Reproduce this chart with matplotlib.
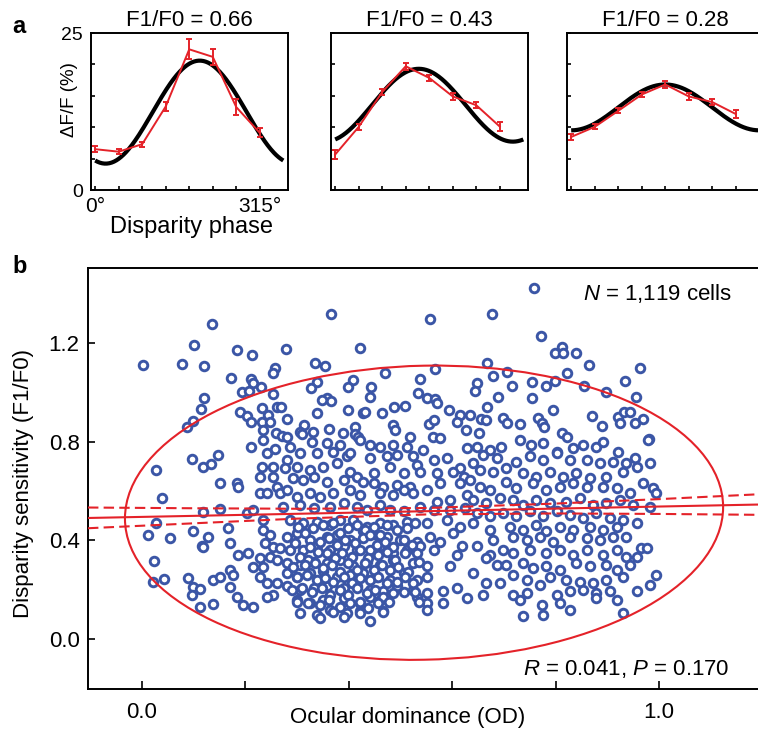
import numpy as np
import matplotlib
matplotlib.use("Agg")
import matplotlib.pyplot as plt
from matplotlib.patches import Ellipse
from matplotlib.transforms import Affine2D

plt.rcParams['font.family'] = ['Liberation Sans', 'DejaVu Sans']
plt.rcParams['mathtext.fontset'] = 'custom'
plt.rcParams['mathtext.rm'] = 'Liberation Sans'
plt.rcParams['mathtext.it'] = 'Liberation Sans:italic'

# ---------------- panel a data ----------------
phases = [0, 45, 90, 135, 180, 225, 270, 315]
phase_ticklabels = ['0\u00b0', '', '', '', '', '', '', '315\u00b0']
dff_ticks = [0, 5, 10, 15, 20, 25]
dff_ticklabels = ['0', '', '', '', '', '25']
panel_titles = ['F1/F0 = 0.66', 'F1/F0 = 0.43', 'F1/F0 = 0.28']

resp_1 = [6.5, 6.1, 7.3, 13.3, 22.4, 21.2, 13.2, 9.1]
err_1 = [0.5, 0.4, 0.4, 0.7, 1.6, 1.3, 1.3, 0.7]
resp_2 = [5.65, 10.05, 15.6, 19.7, 17.85, 14.9, 13.5, 10.1]
err_2 = [0.75, 0.5, 0.5, 0.6, 0.5, 0.5, 0.5, 0.7]
resp_3 = [8.45, 10.05, 12.6, 15.2, 16.8, 14.9, 14.0, 12.1]
err_3 = [0.5, 0.4, 0.4, 0.4, 0.6, 0.5, 0.5, 0.6]

# cosine fit parameters (mean, amplitude, preferred phase)
fit_mean = [12.4, 13.5, 13.15]
fit_amp = [8.2, 5.8, 3.65]
fit_phase = [200, 160, 180]

# ---------------- panel b data ----------------
od_ticks = [0.0, 0.2, 0.4, 0.6, 0.8, 1.0]
od_ticklabels = ['0.0', '', '', '', '', '1.0']
sens_ticks = [0.0, 0.4, 0.8, 1.2]
sens_ticklabels = ['0.0', '0.4', '0.8', '1.2']

od_outer = [0.135, 0.100, 0.002, 0.077, 0.120, 0.184, 0.213, 0.279, 0.172, 0.211,
            0.215, 0.257, 0.253, 0.193, 0.207, 0.230, 0.253, 0.120, 0.114, 0.099,
            0.087, 0.190, 0.203, 0.211, 0.232, 0.244, 0.232, 0.248, 0.261, 0.269,
            0.280, 0.234, 0.259, 0.271, 0.280, 0.234, 0.211, 0.242, 0.257, 0.097,
            0.147, 0.366, 0.422, 0.335, 0.354, 0.443, 0.408, 0.398, 0.338, 0.327,
            0.358, 0.366, 0.348, 0.441, 0.398, 0.427, 0.431, 0.338, 0.313, 0.331,
            0.362, 0.389, 0.412, 0.412, 0.418, 0.306, 0.309, 0.232, 0.253, 0.228,
            0.253, 0.118, 0.133, 0.027, 0.151, 0.184, 0.186]
sens_outer = [1.277, 1.190, 1.110, 1.115, 1.107, 1.170, 1.150, 1.175, 1.060, 1.054,
              1.038, 1.100, 1.080, 1.000, 1.005, 1.020, 0.993, 0.977, 0.932, 0.884,
              0.859, 0.920, 0.904, 0.880, 0.936, 0.908, 0.880, 0.880, 0.940, 0.940,
              0.892, 0.847, 0.835, 0.823, 0.819, 0.807, 0.778, 0.754, 0.770, 0.730,
              0.746, 1.317, 1.180, 1.120, 1.107, 1.020, 1.050, 1.020, 1.040, 1.017,
              0.977, 0.965, 0.969, 0.980, 0.928, 0.916, 0.920, 0.916, 0.867, 0.839,
              0.851, 0.835, 0.859, 0.831, 0.819, 0.839, 0.831, 0.697, 0.697, 0.657,
              0.657, 0.697, 0.709, 0.685, 0.632, 0.632, 0.616]

od_upper_right = [0.758, 0.677, 0.557, 0.772, 0.799, 0.812, 0.814, 0.839, 0.865, 0.963,
                  0.667, 0.567, 0.470, 0.538, 0.679, 0.706, 0.716, 0.648, 0.644, 0.754,
                  0.781, 0.799, 0.822, 0.855, 0.897, 0.934, 0.956, 0.754, 0.689, 0.534,
                  0.551, 0.567, 0.571, 0.667, 0.795, 0.509, 0.487, 0.464, 0.594, 0.615,
                  0.634, 0.656, 0.665, 0.698, 0.706, 0.731, 0.609, 0.555, 0.565, 0.627,
                  0.652, 0.766, 0.774, 0.778, 0.812, 0.822, 0.870, 0.890, 0.921, 0.932,
                  0.944, 0.954, 0.969, 0.981, 0.925, 0.485, 0.489, 0.518, 0.563, 0.576]
sens_upper_right = [1.423, 1.317, 1.297, 1.228, 1.159, 1.184, 1.159, 1.159, 1.110, 1.098,
                    1.119, 1.094, 1.078, 1.054, 1.066, 1.082, 1.025, 1.038, 1.005, 1.042,
                    1.025, 1.046, 1.078, 1.025, 1.000, 1.046, 0.980, 0.977, 0.980, 0.997,
                    0.977, 0.973, 0.957, 0.940, 0.928, 0.944, 0.940, 0.916, 0.928, 0.908,
                    0.908, 0.892, 0.888, 0.896, 0.876, 0.872, 0.880, 0.872, 0.888, 0.847,
                    0.835, 0.896, 0.876, 0.859, 0.835, 0.819, 0.904, 0.863, 0.900, 0.920,
                    0.920, 0.876, 0.892, 0.811, 0.876, 0.867, 0.847, 0.819, 0.819, 0.815]

od_lower_left = [0.039, 0.012, 0.023, 0.021, 0.043, 0.054, 0.027, 0.099, 0.116, 0.118,
                 0.128, 0.089, 0.099, 0.112, 0.097, 0.112, 0.137, 0.137, 0.151, 0.170,
                 0.176, 0.170, 0.184, 0.195, 0.215, 0.186, 0.205, 0.170, 0.166, 0.151,
                 0.118, 0.203, 0.215, 0.228, 0.242, 0.261, 0.267, 0.234, 0.234, 0.248,
                 0.238, 0.253, 0.267, 0.248, 0.261, 0.234, 0.228, 0.242, 0.261, 0.253,
                 0.242, 0.215, 0.228]
sens_lower_left = [0.572, 0.422, 0.316, 0.231, 0.243, 0.409, 0.470, 0.438, 0.377, 0.373,
                   0.413, 0.247, 0.211, 0.203, 0.178, 0.130, 0.142, 0.240, 0.251, 0.280,
                   0.260, 0.211, 0.170, 0.138, 0.130, 0.340, 0.349, 0.389, 0.450, 0.527,
                   0.515, 0.510, 0.523, 0.592, 0.592, 0.616, 0.592, 0.482, 0.442, 0.421,
                   0.389, 0.373, 0.369, 0.332, 0.320, 0.292, 0.251, 0.227, 0.227, 0.178,
                   0.170, 0.292, 0.328]

od_core_left = [0.286, 0.328, 0.357, 0.383, 0.422, 0.441, 0.461, 0.486, 0.512, 0.544, 0.628,
                0.280, 0.306, 0.338, 0.370, 0.396, 0.402, 0.441, 0.473, 0.493, 0.525, 0.564, 0.590, 0.615, 0.531,
                0.277, 0.299, 0.325, 0.351, 0.377, 0.402, 0.415, 0.448, 0.480, 0.506, 0.538, 0.570, 0.602, 0.622,
                0.293, 0.312, 0.332, 0.357, 0.390, 0.428, 0.448, 0.467, 0.493, 0.519, 0.551, 0.577, 0.615, 0.635,
                0.280, 0.299, 0.325, 0.344, 0.370, 0.402, 0.422, 0.461, 0.486, 0.506, 0.525, 0.570, 0.596, 0.628,
                0.273, 0.306, 0.332, 0.364, 0.390, 0.415, 0.435, 0.461, 0.480, 0.506, 0.538, 0.564, 0.596, 0.625,
                0.286, 0.312, 0.338, 0.364, 0.383, 0.409, 0.435, 0.461, 0.486, 0.512, 0.551, 0.590, 0.615,
                0.280, 0.299, 0.325, 0.357, 0.377, 0.402, 0.428, 0.454, 0.473, 0.499, 0.531, 0.557, 0.577, 0.602, 0.619,
                0.286, 0.312, 0.338, 0.364, 0.390, 0.415, 0.441, 0.461, 0.486, 0.512, 0.538, 0.564, 0.609,
                0.280, 0.306, 0.332, 0.357, 0.383, 0.409, 0.435, 0.461, 0.486, 0.525, 0.551, 0.596,
                0.280, 0.299, 0.325, 0.351, 0.377, 0.402, 0.428, 0.454, 0.480, 0.506, 0.531, 0.551,
                0.280, 0.306, 0.332, 0.357, 0.390, 0.415, 0.441, 0.467, 0.493, 0.525, 0.551, 0.583, 0.609, 0.628,
                0.299, 0.325, 0.351, 0.390, 0.422, 0.441, 0.461, 0.531, 0.551, 0.583,
                0.306, 0.338, 0.364, 0.396, 0.422, 0.467, 0.441, 0.344, 0.551]
sens_core_left = [0.780, 0.800, 0.793, 0.787, 0.807, 0.787, 0.780, 0.787, 0.780, 0.766, 0.773,
                  0.726, 0.753, 0.753, 0.760, 0.740, 0.753, 0.733, 0.740, 0.746, 0.740, 0.726, 0.733, 0.692, 0.706,
                  0.692, 0.699, 0.685, 0.699, 0.713, 0.679, 0.658, 0.672, 0.699, 0.672, 0.679, 0.672, 0.679, 0.658,
                  0.652, 0.645, 0.658, 0.638, 0.645, 0.638, 0.631, 0.618, 0.625, 0.618, 0.604, 0.631, 0.631, 0.645,
                  0.604, 0.577, 0.591, 0.577, 0.591, 0.604, 0.584, 0.591, 0.584, 0.604, 0.591, 0.557, 0.564, 0.584,
                  0.537, 0.544, 0.530, 0.537, 0.551, 0.537, 0.523, 0.544, 0.523, 0.517, 0.537, 0.523, 0.523, 0.530,
                  0.483, 0.470, 0.476, 0.463, 0.483, 0.483, 0.456, 0.470, 0.463, 0.476, 0.470, 0.483, 0.456,
                  0.415, 0.429, 0.402, 0.415, 0.422, 0.402, 0.436, 0.422, 0.415, 0.402, 0.395, 0.415, 0.395, 0.429, 0.375,
                  0.362, 0.362, 0.375, 0.362, 0.375, 0.362, 0.362, 0.375, 0.348, 0.362, 0.375, 0.362, 0.341,
                  0.307, 0.301, 0.314, 0.307, 0.321, 0.294, 0.314, 0.301, 0.321, 0.307, 0.294, 0.294,
                  0.267, 0.253, 0.267, 0.274, 0.253, 0.260, 0.267, 0.253, 0.240, 0.267, 0.240, 0.253,
                  0.213, 0.199, 0.206, 0.213, 0.206, 0.213, 0.199, 0.193, 0.213, 0.199, 0.186, 0.193, 0.206, 0.166,
                  0.159, 0.146, 0.159, 0.166, 0.146, 0.172, 0.159, 0.172, 0.146, 0.146,
                  0.105, 0.098, 0.119, 0.105, 0.112, 0.112, 0.071, 0.085, 0.119]

# extra cells read from the densest part of the left cluster
od_core_dense = [0.302, 0.315, 0.331, 0.351, 0.370, 0.383, 0.399, 0.415, 0.431, 0.448, 0.460, 0.473, 0.493, 0.512, 0.528,
                 0.296, 0.325, 0.344, 0.361, 0.377, 0.393, 0.412, 0.428, 0.441, 0.454, 0.470, 0.486, 0.506, 0.522,
                 0.306, 0.322, 0.341, 0.357, 0.373, 0.386, 0.406, 0.422, 0.438, 0.457, 0.473, 0.489, 0.509, 0.531,
                 0.293, 0.315, 0.335, 0.351, 0.367, 0.383, 0.399, 0.415, 0.431, 0.448, 0.464, 0.480, 0.496, 0.515, 0.535,
                 0.299, 0.319, 0.338, 0.354, 0.370, 0.390, 0.406, 0.422, 0.441, 0.457, 0.473, 0.493, 0.509, 0.525,
                 0.290, 0.309, 0.328, 0.348, 0.364, 0.383, 0.399, 0.415, 0.435, 0.451, 0.467, 0.486, 0.506,
                 0.299, 0.322, 0.344, 0.361, 0.383, 0.402, 0.422, 0.438, 0.457, 0.477, 0.370, 0.390, 0.422, 0.467, 0.528, 0.535]
sens_core_dense = [0.455, 0.428, 0.449, 0.462, 0.469, 0.431, 0.449, 0.462, 0.442, 0.455, 0.422, 0.462, 0.442, 0.449, 0.469,
                   0.388, 0.374, 0.395, 0.408, 0.381, 0.401, 0.388, 0.408, 0.422, 0.381, 0.395, 0.374, 0.401, 0.381,
                   0.334, 0.320, 0.354, 0.347, 0.327, 0.347, 0.334, 0.361, 0.327, 0.341, 0.354, 0.320, 0.347, 0.347,
                   0.293, 0.300, 0.307, 0.287, 0.300, 0.273, 0.307, 0.280, 0.307, 0.280, 0.300, 0.280, 0.293, 0.273, 0.314,
                   0.253, 0.260, 0.239, 0.246, 0.233, 0.253, 0.226, 0.246, 0.239, 0.253, 0.226, 0.233, 0.253, 0.226,
                   0.199, 0.206, 0.192, 0.206, 0.179, 0.199, 0.179, 0.206, 0.185, 0.199, 0.172, 0.185, 0.192,
                   0.152, 0.145, 0.138, 0.158, 0.131, 0.145, 0.152, 0.125, 0.145, 0.152, 0.111, 0.091, 0.104, 0.111, 0.192, 0.152]

od_core_right = [0.647, 0.673, 0.695, 0.731, 0.753, 0.776, 0.802, 0.834, 0.853, 0.879, 0.892, 0.921, 0.953, 0.979,
                 0.640, 0.660, 0.686, 0.724, 0.750, 0.776, 0.802, 0.828, 0.860, 0.886, 0.911, 0.937, 0.957, 0.982,
                 0.653, 0.679, 0.705, 0.737, 0.763, 0.789, 0.815, 0.840, 0.866, 0.898, 0.931, 0.969, 0.989,
                 0.653, 0.673, 0.705, 0.724, 0.757, 0.782, 0.808, 0.834, 0.860, 0.892, 0.918, 0.944, 0.995,
                 0.640, 0.666, 0.692, 0.718, 0.737, 0.763, 0.789, 0.821, 0.847, 0.873, 0.898, 0.924, 0.950, 0.982,
                 0.647, 0.673, 0.699, 0.724, 0.750, 0.776, 0.802, 0.828, 0.853, 0.879, 0.905, 0.957, 0.931,
                 0.640, 0.673, 0.711, 0.737, 0.763, 0.782, 0.808, 0.834, 0.866, 0.892, 0.918, 0.937,
                 0.647, 0.679, 0.718, 0.744, 0.769, 0.795, 0.828, 0.860, 0.886, 0.911, 0.966, 0.976,
                 0.673, 0.699, 0.718, 0.750, 0.782, 0.808, 0.834, 0.860, 0.892, 0.918, 0.957, 0.937,
                 0.666, 0.686, 0.705, 0.737, 0.757, 0.782, 0.808, 0.840, 0.866, 0.898, 0.918, 0.944,
                 0.640, 0.666, 0.692, 0.718, 0.744, 0.769, 0.789, 0.821, 0.847, 0.873, 0.898, 0.931, 0.982, 0.995,
                 0.660, 0.718, 0.744, 0.802, 0.828, 0.853, 0.879, 0.905, 0.918, 0.957, 0.879,
                 0.731, 0.773, 0.808, 0.828, 0.737, 0.776, 0.931]
sens_core_right = [0.780, 0.766, 0.780, 0.807, 0.787, 0.793, 0.760, 0.773, 0.787, 0.780, 0.800, 0.760, 0.733, 0.807,
                   0.713, 0.746, 0.733, 0.719, 0.740, 0.726, 0.753, 0.726, 0.726, 0.713, 0.719, 0.713, 0.699, 0.713,
                   0.685, 0.679, 0.692, 0.672, 0.658, 0.679, 0.658, 0.672, 0.652, 0.658, 0.679, 0.631, 0.611,
                   0.618, 0.604, 0.638, 0.611, 0.631, 0.604, 0.618, 0.631, 0.618, 0.618, 0.611, 0.591, 0.591,
                   0.564, 0.551, 0.571, 0.564, 0.544, 0.564, 0.551, 0.557, 0.571, 0.544, 0.551, 0.564, 0.544, 0.537,
                   0.510, 0.497, 0.510, 0.497, 0.517, 0.497, 0.517, 0.503, 0.490, 0.510, 0.490, 0.470, 0.483,
                   0.470, 0.443, 0.456, 0.443, 0.463, 0.436, 0.456, 0.443, 0.456, 0.443, 0.456, 0.415,
                   0.375, 0.402, 0.415, 0.402, 0.415, 0.395, 0.415, 0.409, 0.402, 0.415, 0.368, 0.368,
                   0.341, 0.362, 0.348, 0.362, 0.348, 0.362, 0.341, 0.362, 0.341, 0.362, 0.334, 0.334,
                   0.328, 0.301, 0.301, 0.307, 0.287, 0.294, 0.280, 0.307, 0.294, 0.301, 0.280, 0.301,
                   0.267, 0.227, 0.227, 0.260, 0.240, 0.220, 0.253, 0.240, 0.233, 0.227, 0.240, 0.253, 0.220, 0.260,
                   0.179, 0.179, 0.186, 0.179, 0.193, 0.199, 0.186, 0.193, 0.159, 0.193, 0.166,
                   0.159, 0.139, 0.146, 0.119, 0.092, 0.098, 0.105]

# regression line (intercept, slope) and its confidence band read at several OD values
reg_intercept = 0.495
reg_slope = 0.042
band_od = [-0.1045, 0.1, 0.3, 0.55, 0.8, 1.0, 1.215]
band_upper = [0.533, 0.530, 0.528, 0.531, 0.549, 0.567, 0.589]
band_lower = [0.449, 0.469, 0.488, 0.505, 0.509, 0.507, 0.503]

# covariance ellipse: centre, semi-axes, shear (y change per unit OD)
ell_center = (0.5455, 0.512)
ell_semi = (0.5785, 0.596)
ell_shear = 0.04

stats_text = r'$\mathit{R}$ = 0.041, $\mathit{P}$ = 0.170'
n_text = r'$\mathit{N}$ = 1,119 cells'

RED = '#E42229'
BLUE = '#3B56A6'
W, H = 758, 733

fig = plt.figure(figsize=(W / 100, H / 100), dpi=100)

def frac(x0, y_top, w, h):
    return [x0 / W, 1 - (y_top + h) / H, w / W, h / H]

# ---------------- panel a ----------------
top_lefts = [91, 331, 567]
resps = [resp_1, resp_2, resp_3]
errs = [err_1, err_2, err_3]
for i in range(3):
    ax = fig.add_axes(frac(top_lefts[i], 33, 197, 157))
    grid = np.linspace(0, 360, 241)
    ax.plot(grid, fit_mean[i] + fit_amp[i] * np.cos(np.deg2rad(grid - fit_phase[i])),
            color='black', lw=3.0, solid_capstyle='butt', zorder=2)
    ax.errorbar(phases, resps[i], yerr=errs[i], color=RED, lw=1.4,
                elinewidth=1.4, capsize=2.0, capthick=1.4, zorder=3)
    ax.set_xlim(-8, 369)
    ax.set_ylim(0, 25)
    ax.set_xticks(phases)
    ax.set_yticks(dff_ticks)
    ax.tick_params(direction='in', length=3, width=1.2, color='black')
    if i == 0:
        ax.set_xticklabels(phase_ticklabels, fontsize=15)
        ax.set_yticklabels(dff_ticklabels, fontsize=14)
        ax.tick_params(axis='x', pad=5)
        ax.tick_params(axis='y', pad=6)
    else:
        ax.set_xticklabels([])
        ax.set_yticklabels([])
    for s in ax.spines.values():
        s.set_linewidth(1.4)
    ax.set_title(panel_titles[i], fontsize=16, pad=5)

fig.text(70 / W, 1 - 100 / H, '\u0394F/F (%)', rotation=90, ha='center', va='center', fontsize=13.5)
fig.text(192 / W, 1 - 233 / H, 'Disparity phase', ha='center', va='baseline', fontsize=17)
fig.text(12 / W, 1 - 33 / H, 'a', fontsize=17, fontweight='bold', va='baseline')
fig.text(12 / W, 1 - 273 / H, 'b', fontsize=17, fontweight='bold', va='baseline')

# ---------------- panel b ----------------
axb = fig.add_axes(frac(88, 268, 682, 421))
od_all = od_outer + od_upper_right + od_lower_left + od_core_left + od_core_dense + od_core_right
sens_all = sens_outer + sens_upper_right + sens_lower_left + sens_core_left + sens_core_dense + sens_core_right
axb.scatter(od_all, sens_all, s=38, facecolors='white', edgecolors=BLUE,
            linewidths=2.1, zorder=2)

xl = (-0.1045, 1.2147)
axb.set_xlim(*xl)
axb.set_ylim(-0.2027, 1.504)
xs = np.array(xl)
axb.plot(xs, reg_intercept + reg_slope * xs, color=RED, lw=1.5, zorder=4)
axb.plot(band_od, band_upper, color=RED, lw=1.5, ls=(0, (5, 2.5)), zorder=4)
axb.plot(band_od, band_lower, color=RED, lw=1.5, ls=(0, (5, 2.5)), zorder=4)

shear = Affine2D(np.array([[1.0, 0.0, ell_center[0]],
                           [ell_shear, 1.0, ell_center[1]],
                           [0.0, 0.0, 1.0]]))
ell = Ellipse((0, 0), 2 * ell_semi[0], 2 * ell_semi[1], fill=False, edgecolor=RED,
              lw=1.5, transform=shear + axb.transData, zorder=4)
axb.add_patch(ell)

axb.set_xticks(od_ticks)
axb.set_xticklabels(od_ticklabels, fontsize=16)
axb.set_yticks(sens_ticks)
axb.set_yticklabels(sens_ticklabels, fontsize=16)
axb.tick_params(axis='x', direction='in', length=6, width=1.2, pad=9)
axb.tick_params(axis='y', direction='in', length=5, width=1.2, pad=6)
for s in axb.spines.values():
    s.set_linewidth(1.4)
axb.spines['right'].set_visible(False)

fig.text(408 / W, 1 - 718 / H, 'Ocular dominance (OD)', ha='center', va='center', fontsize=16)
fig.text(24 / W, 1 - 483 / H, 'Disparity sensitivity (F1/F0)', rotation=90,
         ha='center', va='center', fontsize=16)
fig.text(732 / W, 1 - 300 / H, n_text, ha='right', va='baseline', fontsize=16)
fig.text(730 / W, 1 - 675 / H, stats_text, ha='right', va='baseline', fontsize=16)

fig.savefig('out.png', dpi=100)
